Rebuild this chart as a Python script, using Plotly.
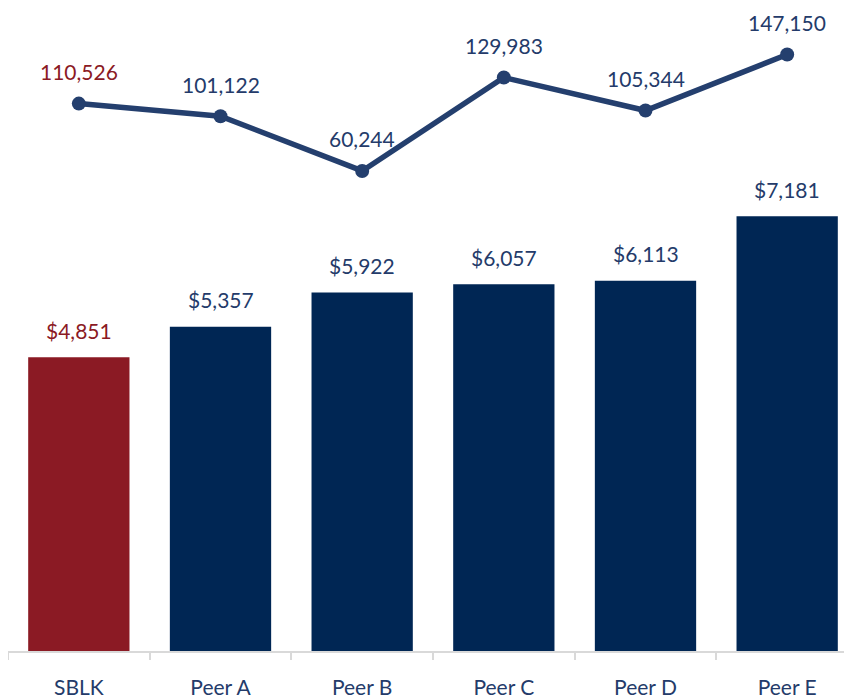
import plotly.graph_objects as go

# data
categories = ["SBLK", "Peer A", "Peer B", "Peer C", "Peer D", "Peer E"]
bar_values = [4851, 5357, 5922, 6057, 6113, 7181]
line_values = [110526, 101122, 60244, 129983, 105344, 147150]

NAVY = "#002654"
RED = "#8B1A24"
LINE = "#243F6E"
TEXT_NAVY = "#243B6A"
AXIS_GREY = "#D9D9D9"
FONT = "Lato"

bar_colors = [RED] + [NAVY] * (len(categories) - 1)
bar_text_colors = [RED] + [TEXT_NAVY] * (len(categories) - 1)

fig = go.Figure()

fig.add_trace(go.Bar(
    x=categories,
    y=bar_values,
    marker=dict(color=bar_colors, line=dict(width=0)),
    width=0.715,
    yaxis="y",
    hoverinfo="skip",
))

fig.add_trace(go.Scatter(
    x=categories,
    y=line_values,
    mode="lines+markers",
    line=dict(color=LINE, width=5.5),
    marker=dict(color=LINE, size=14),
    yaxis="y2",
    hoverinfo="skip",
))

# value labels
for c, v, col in zip(categories, bar_values, bar_text_colors):
    fig.add_annotation(
        x=c, y=v, xref="x", yref="y",
        text=f"${v:,}", showarrow=False,
        yanchor="middle", yshift=27,
        font=dict(family=FONT, size=21, color=col),
    )

for c, v, col in zip(categories, line_values, bar_text_colors):
    fig.add_annotation(
        x=c, y=v, xref="x", yref="y2",
        text=f"{v:,}", showarrow=False,
        yanchor="middle", yshift=32,
        font=dict(family=FONT, size=21, color=col),
    )

# page body adds an 8px offset; the right edge of the plot runs past the window like the reference
fig.update_layout(
    width=852,
    height=691,
    margin=dict(l=0, r=2, t=3, b=39),
    paper_bgcolor="white",
    plot_bgcolor="white",
    showlegend=False,
    xaxis=dict(
        range=[-0.5, 5.5],
        showline=True,
        linecolor=AXIS_GREY,
        linewidth=2,
        ticks="outside",
        tickson="boundaries",
        ticklen=7,
        tickwidth=2,
        tickcolor=AXIS_GREY,
        ticklabelstandoff=17,
        tickfont=dict(family=FONT, size=21, color=TEXT_NAVY),
        showgrid=False,
        zeroline=False,
    ),
    yaxis=dict(
        range=[0, 10570],
        visible=False,
        showgrid=False,
        zeroline=False,
    ),
    yaxis2=dict(
        range=[-298233, 179676],
        overlaying="y",
        visible=False,
        showgrid=False,
        zeroline=False,
    ),
)

fig.write_html("out.html")
